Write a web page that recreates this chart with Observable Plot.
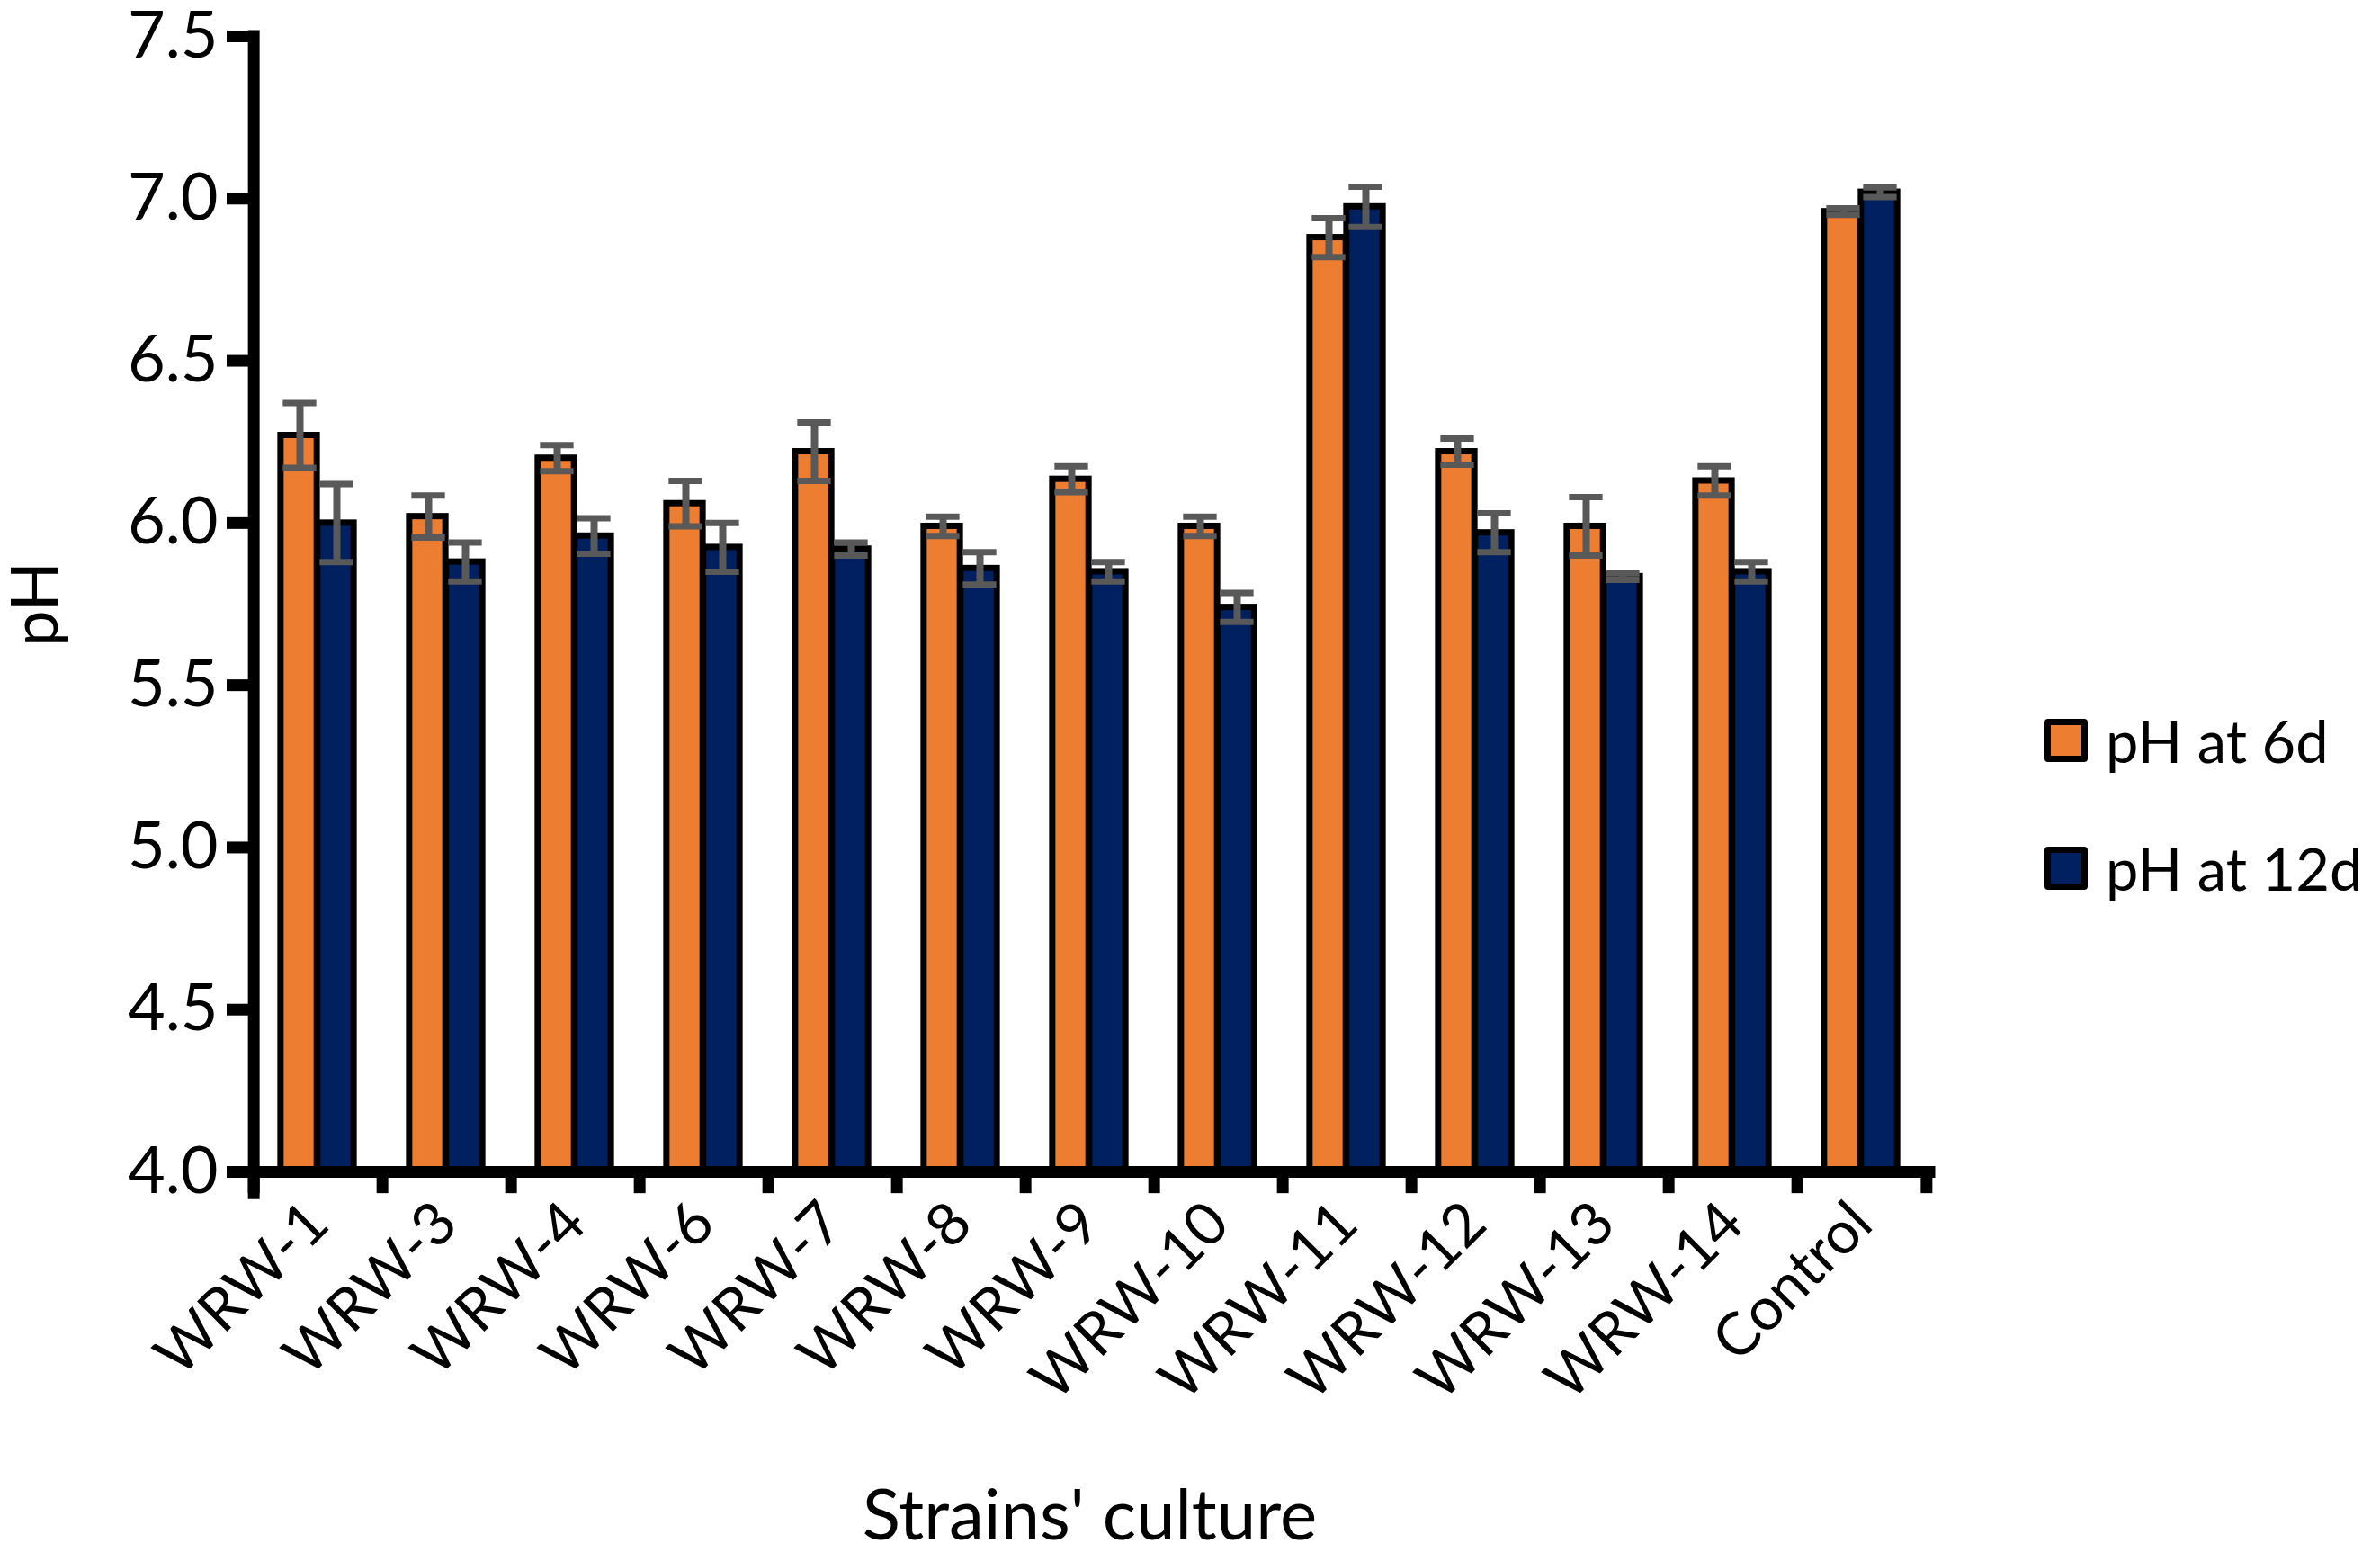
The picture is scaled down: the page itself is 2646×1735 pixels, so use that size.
<!DOCTYPE html>
<html>
<head>
<meta charset="utf-8">
<script src="https://cdn.jsdelivr.net/npm/d3@7"></script>
<script src="https://cdn.jsdelivr.net/npm/@observablehq/plot@0.6"></script>
<style>
  html, body { margin: 0; padding: 0; background: #fff; }
  #wrap { position: relative; width: 2646px; height: 1735px; font-family: Lato, "Open Sans", sans-serif; }
  #legend { position: absolute; left: 2273px; top: 799px; font-size: 65px; color: #000; }
  .row { display: flex; align-items: center; height: 48px; margin-bottom: 94px; }
  .sw { width: 48px; height: 48px; box-sizing: border-box; border: 7px solid #000; border-radius: 4px; margin-right: 20px; }
</style>
</head>
<body>
<div id="wrap"></div>
<script>
const categories = ["WRW-1","WRW-3","WRW-4","WRW-6","WRW-7","WRW-8","WRW-9","WRW-10","WRW-11","WRW-12","WRW-13","WRW-14","Control"];
const ph6  = [6.27, 6.02, 6.20, 6.06, 6.22, 5.99, 6.135, 5.99, 6.88, 6.22, 5.99, 6.13, 6.96];
const err6 = [0.10, 0.065, 0.04, 0.07, 0.09, 0.03, 0.04, 0.03, 0.06, 0.04, 0.09, 0.045, 0.01];
const ph12  = [6.00, 5.88, 5.96, 5.925, 5.92, 5.86, 5.85, 5.74, 6.975, 5.97, 5.835, 5.85, 7.02];
const err12 = [0.12, 0.06, 0.055, 0.075, 0.02, 0.05, 0.03, 0.045, 0.062, 0.06, 0.01, 0.03, 0.015];
const seriesNames = ["pH at 6d", "pH at 12d"];
const seriesColors = ["#ED7D31", "#002060"];
const yTicks = [4.0, 4.5, 5.0, 5.5, 6.0, 6.5, 7.0, 7.5];

const W = 2646, H = 1735, mL = 277, mR = 501, mT = 40, mB = 433;
const bw = (W - mL - mR) / categories.length;
const barW = 41, capW = 38;

const d6 = categories.map((c, i) => ({cat: c, v: ph6[i], e: err6[i]}));
const d12 = categories.map((c, i) => ({cat: c, v: ph12[i], e: err12[i]}));

const errMarks = (data, side) => {
  const off = side * barW / 2;
  return [
    Plot.ruleX(data, {x: "cat", y1: d => d.v - d.e, y2: d => d.v + d.e, dx: off, stroke: "#595959", strokeWidth: 8}),
    Plot.tickY(data, {x: "cat", y: d => d.v + d.e, stroke: "#595959", strokeWidth: 7,
      insetLeft: bw / 2 + off - capW / 2, insetRight: bw / 2 - off - capW / 2}),
    Plot.tickY(data, {x: "cat", y: d => d.v - d.e, stroke: "#595959", strokeWidth: 7,
      insetLeft: bw / 2 + off - capW / 2, insetRight: bw / 2 - off - capW / 2})
  ];
};

const chart = Plot.plot({
  width: W, height: H,
  marginLeft: mL, marginRight: mR, marginTop: mT, marginBottom: mB,
  style: {fontFamily: "Lato, 'Open Sans', sans-serif", background: "#fff", color: "#000", overflow: "visible"},
  x: {domain: categories, padding: 0, label: null},
  y: {domain: [4, 7.5], label: null},
  marks: [
    Plot.rectY(d6, {x: "cat", y1: 4, y2: "v", fill: seriesColors[0], stroke: "#000", strokeWidth: 7,
      insetLeft: bw / 2 - barW - 1, insetRight: bw / 2 + 1}),
    Plot.rectY(d12, {x: "cat", y1: 4, y2: "v", fill: seriesColors[1], stroke: "#000", strokeWidth: 7,
      insetLeft: bw / 2 - 1, insetRight: bw / 2 - barW + 1}),
    ...errMarks(d6, -1),
    ...errMarks(d12, 1),
    Plot.ruleY([4], {stroke: "#000", strokeWidth: 13, strokeLinecap: "square"}),
    Plot.ruleX([categories[0]], {x: d => d, dx: -bw / 2, y1: 3.933, y2: 7.5, stroke: "#000", strokeWidth: 13, strokeLinecap: "square"}),
    Plot.ruleX(categories, {x: d => d, dx: -bw / 2, y1: 4, y2: 3.933, stroke: "#000", strokeWidth: 13}),
    Plot.ruleX([categories[categories.length - 1]], {x: d => d, dx: bw / 2, y1: 4, y2: 3.933, stroke: "#000", strokeWidth: 13}),
    Plot.axisY({ticks: yTicks, tickFormat: d3.format(".1f"), tickSize: 25, tickPadding: 10, fontSize: 72, strokeWidth: 13, label: null}),
    Plot.axisX({tickSize: 0, tickPadding: 46, tickRotate: -45, fontSize: 66, label: null}),
    Plot.text(["pH"], {frameAnchor: "left", dx: -237, rotate: -90, fontSize: 72, textAnchor: "middle", lineAnchor: "middle"}),
    Plot.text(["Strains' culture"], {frameAnchor: "bottom", dy: 384, fontSize: 78, textAnchor: "middle", lineAnchor: "middle"})
  ]
});

const wrap = document.getElementById("wrap");
wrap.appendChild(chart);
const legend = document.createElement("div");
legend.id = "legend";
seriesNames.forEach((n, i) => {
  const row = document.createElement("div");
  row.className = "row";
  const sw = document.createElement("div");
  sw.className = "sw";
  sw.style.background = seriesColors[i];
  const t = document.createElement("span");
  t.textContent = n;
  row.appendChild(sw); row.appendChild(t);
  legend.appendChild(row);
});
wrap.appendChild(legend);
</script>
</body>
</html>
